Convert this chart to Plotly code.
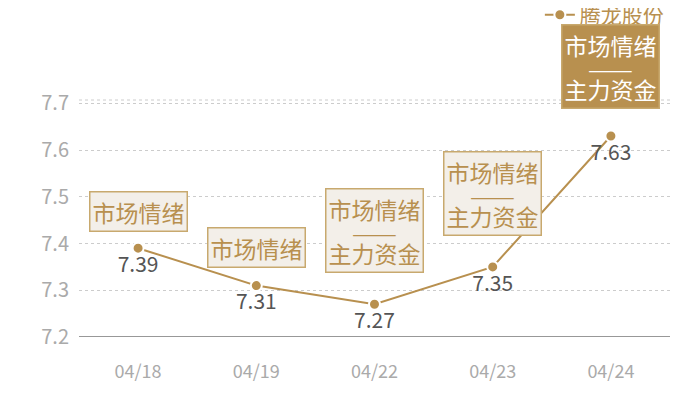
import plotly.graph_objects as go

# 数据
dates = ['04/18', '04/19', '04/22', '04/23', '04/24']
prices = [7.39, 7.31, 7.27, 7.35, 7.63]
tags = [['市场情绪'], ['市场情绪'], ['市场情绪', '———', '主力资金'],
        ['市场情绪', '———', '主力资金'], ['市场情绪', '———', '主力资金']]
gaps = [16, 18, 31, 31, 27]  # 标签框离点的距离(px)

gold = '#b8904f'
font_cn = 'Noto Sans CJK SC'

fig = go.Figure()
fig.add_trace(go.Scatter(
    x=dates, y=prices, name='腾龙股份',
    mode='lines+markers+text',
    line=dict(color=gold, width=2),
    marker=dict(color=gold, size=11, line=dict(color='white', width=2)),
    text=[f'{p:.2f}' for p in prices],
    textposition='bottom center',
    textfont=dict(color='#555555', size=21, family=font_cn),
))

for i, (d, p, t) in enumerate(zip(dates, prices, tags)):
    last = i == len(dates) - 1
    # 行距按小字号算，字用大字号显示，使多行框更紧凑
    parts = []
    for s in t:
        fs = 18 if s.startswith('—') else 23
        parts.append(f'<span style="font-size:{fs}px">{s}</span>')
    fig.add_annotation(
        x=d, y=p, text='<br>'.join(parts), showarrow=False,
        yanchor='bottom', yshift=gaps[i],
        font=dict(size=17, color='white' if last else gold, family=font_cn),
        bgcolor=gold if last else '#f3efe9',
        bordercolor='#c8a96e', borderwidth=1.5, borderpad=2,
    )

# 页面本身有8px边距，图整体缩小8px来对齐
fig.update_layout(
    width=692, height=392,
    margin=dict(l=71, r=30, t=92, b=63, autoexpand=False),
    paper_bgcolor='white', plot_bgcolor='white',
    font=dict(family=font_cn),
    showlegend=True,
    legend=dict(x=0.955, y=0.982, xref='container', yref='container',
                xanchor='right', yanchor='middle',
                font=dict(size=21, color=gold, family=font_cn),
                itemwidth=30, bgcolor='rgba(0,0,0,0)'),
)
fig.update_xaxes(
    type='category', range=[-0.5, 4.5],
    showgrid=False, showline=False, ticks='',
    tickfont=dict(size=18, color='#aaaaaa'),
    ticklabelstandoff=22,
)
fig.update_yaxes(
    range=[7.2, 7.707], tickvals=[7.2, 7.3, 7.4, 7.5, 7.6, 7.7],
    ticktext=['7.2', '7.3', '7.4', '7.5', '7.6', '7.7'],
    showgrid=True, gridcolor='#cccccc', griddash='dot', gridwidth=1,
    zeroline=False, showline=False,
    tickfont=dict(size=20, color='#aaaaaa'),
    ticklabelstandoff=9,
)
# 底部轴线和顶部虚线
fig.add_shape(type='line', xref='paper', yref='y', x0=0, x1=1, y0=7.2, y1=7.2,
              line=dict(color='#333333', width=1.2))
fig.add_shape(type='line', xref='paper', yref='paper', x0=0, x1=1, y0=1, y1=1,
              line=dict(color='#cccccc', width=1, dash='dot'))

fig.write_html('out.html')
